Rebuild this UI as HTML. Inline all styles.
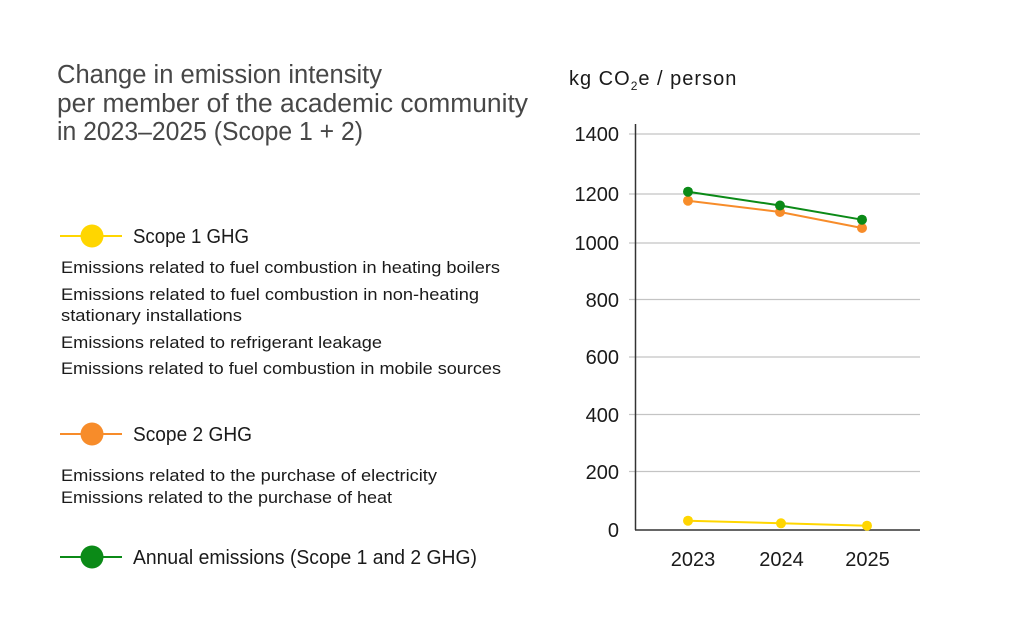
<!DOCTYPE html>
<html>
<head>
<meta charset="utf-8">
<style>
  html,body{margin:0;padding:0;background:#fff;}
  svg{display:block;}
  text{font-family:"Liberation Sans",sans-serif;}
</style>
</head>
<body>
<svg width="1024" height="640" viewBox="0 0 1024 640" xmlns="http://www.w3.org/2000/svg">
  <rect width="1024" height="640" fill="#ffffff"/>

  <!-- Title -->
  <g fill="#474747" font-size="25.5">
    <text x="57" y="83" textLength="325" lengthAdjust="spacingAndGlyphs">Change in emission intensity</text>
    <text x="57" y="112" textLength="471" lengthAdjust="spacingAndGlyphs">per member of the academic community</text>
    <text x="57" y="140" textLength="306" lengthAdjust="spacingAndGlyphs">in 2023–2025 (Scope 1 + 2)</text>
  </g>

  <!-- Legend: Scope 1 -->
  <line x1="60" y1="236" x2="122" y2="236" stroke="#FFD600" stroke-width="2"/>
  <circle cx="92" cy="236" r="11.5" fill="#FFD600"/>
  <text x="133" y="243" font-size="20" fill="#1a1a1a" textLength="116" lengthAdjust="spacingAndGlyphs">Scope 1 GHG</text>
  <g font-size="16.5" fill="#1a1a1a">
    <text x="61" y="273" textLength="439" lengthAdjust="spacingAndGlyphs">Emissions related to fuel combustion in heating boilers</text>
    <text x="61" y="300" textLength="418" lengthAdjust="spacingAndGlyphs">Emissions related to fuel combustion in non-heating</text>
    <text x="61" y="321" textLength="181" lengthAdjust="spacingAndGlyphs">stationary installations</text>
    <text x="61" y="348" textLength="321" lengthAdjust="spacingAndGlyphs">Emissions related to refrigerant leakage</text>
    <text x="61" y="374" textLength="440" lengthAdjust="spacingAndGlyphs">Emissions related to fuel combustion in mobile sources</text>
  </g>

  <!-- Legend: Scope 2 -->
  <line x1="60" y1="434" x2="122" y2="434" stroke="#F78C2A" stroke-width="2"/>
  <circle cx="92" cy="434" r="11.5" fill="#F78C2A"/>
  <text x="133" y="441" font-size="20" fill="#1a1a1a" textLength="119" lengthAdjust="spacingAndGlyphs">Scope 2 GHG</text>
  <g font-size="16.5" fill="#1a1a1a">
    <text x="61" y="481" textLength="376" lengthAdjust="spacingAndGlyphs">Emissions related to the purchase of electricity</text>
    <text x="61" y="503" textLength="331" lengthAdjust="spacingAndGlyphs">Emissions related to the purchase of heat</text>
  </g>

  <!-- Legend: Annual -->
  <line x1="60" y1="557" x2="122" y2="557" stroke="#0B8A17" stroke-width="2"/>
  <circle cx="92" cy="557" r="11.5" fill="#0B8A17"/>
  <text x="133" y="564" font-size="20" fill="#1a1a1a" textLength="344" lengthAdjust="spacingAndGlyphs">Annual emissions (Scope 1 and 2 GHG)</text>

  <!-- Axis label -->
  <text x="569" y="85" font-size="20" fill="#1a1a1a" letter-spacing="1">kg CO<tspan font-size="12" dy="5">2</tspan><tspan dy="-5">e / person</tspan></text>

  <!-- Gridlines -->
  <g stroke="#c4c4c4" stroke-width="1.2">
    <line x1="629" y1="134" x2="920" y2="134"/>
    <line x1="629" y1="194" x2="920" y2="194"/>
    <line x1="629" y1="243" x2="920" y2="243"/>
    <line x1="629" y1="299.5" x2="920" y2="299.5"/>
    <line x1="629" y1="357" x2="920" y2="357"/>
    <line x1="629" y1="414.5" x2="920" y2="414.5"/>
    <line x1="629" y1="471.5" x2="920" y2="471.5"/>
  </g>
  <!-- Axes -->
  <line x1="635.5" y1="124" x2="635.5" y2="530" stroke="#333" stroke-width="1.5"/>
  <line x1="635" y1="530" x2="920" y2="530" stroke="#333" stroke-width="1.5"/>

  <!-- Y tick labels -->
  <g font-size="20" fill="#1a1a1a" text-anchor="end">
    <text x="619" y="141">1400</text>
    <text x="619" y="201">1200</text>
    <text x="619" y="250">1000</text>
    <text x="619" y="307">800</text>
    <text x="619" y="364">600</text>
    <text x="619" y="422">400</text>
    <text x="619" y="479">200</text>
    <text x="619" y="537">0</text>
  </g>

  <!-- X tick labels -->
  <g font-size="20" fill="#1a1a1a" text-anchor="middle">
    <text x="693" y="566">2023</text>
    <text x="781.5" y="566">2024</text>
    <text x="867.5" y="566">2025</text>
  </g>

  <!-- Series: Scope 2 (orange) -->
  <polyline points="688,200.7 780,212 862,228" fill="none" stroke="#F78C2A" stroke-width="2"/>
  <g fill="#F78C2A">
    <circle cx="688" cy="200.7" r="5"/>
    <circle cx="780" cy="212" r="5"/>
    <circle cx="862" cy="228" r="5"/>
  </g>

  <!-- Series: Annual (green) -->
  <polyline points="688,191.7 780,205.5 862,219.7" fill="none" stroke="#0B8A17" stroke-width="2"/>
  <g fill="#0B8A17">
    <circle cx="688" cy="191.7" r="5"/>
    <circle cx="780" cy="205.5" r="5"/>
    <circle cx="862" cy="219.7" r="5"/>
  </g>

  <!-- Series: Scope 1 (yellow) -->
  <polyline points="688,520.7 781,523.3 867,525.7" fill="none" stroke="#FFD600" stroke-width="2"/>
  <g fill="#FFD600">
    <circle cx="688" cy="520.7" r="5"/>
    <circle cx="781" cy="523.3" r="5"/>
    <circle cx="867" cy="525.7" r="5"/>
  </g>
</svg>
</body>
</html>
